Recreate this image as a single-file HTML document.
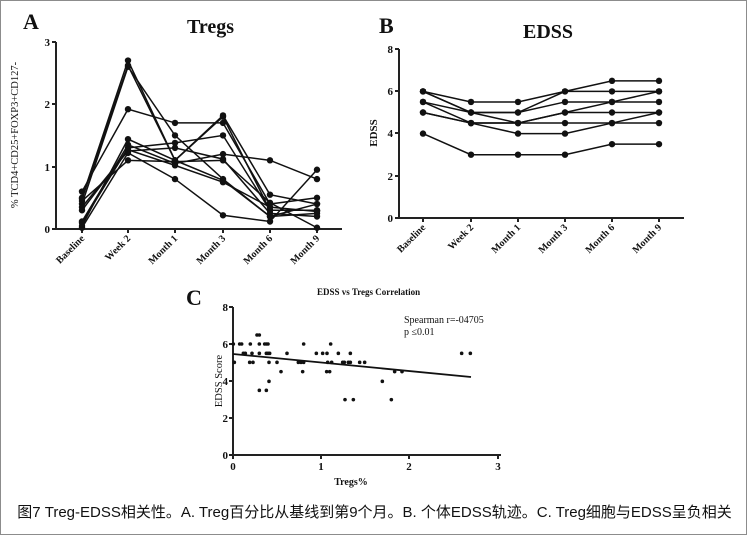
<!DOCTYPE html>
<html><head><meta charset="utf-8"><style>
body{margin:0;background:#fff;}
#w{position:relative;width:747px;height:535px;box-sizing:border-box;border:1px solid #8c8c8c;overflow:hidden;}
svg text{font-family:"Liberation Serif",serif;font-weight:bold;fill:#111;}
svg text.n{font-weight:normal;}
.cap{position:absolute;left:0;top:500px;width:747px;text-align:center;font-family:"Liberation Sans","Noto Sans CJK SC",sans-serif;font-size:15px;color:#111;letter-spacing:0px;}
</style></head><body><div id="w">
<svg id="s" width="747" height="535" xmlns="http://www.w3.org/2000/svg">
<g stroke="#222" stroke-width="2" fill="none">
<path d="M55,41V228H341"/>
<path d="M51,41H55M51,103H55M51,166H55M51,228H55"/>
<path d="M81,228v4M127,228v4M174,228v4M222,228v4M269,228v4M316,228v4"/>
<path d="M398,48V217H683"/>
<path d="M394,48h4M394,90h4M394,132h4M394,175h4M394,217h4"/>
<path d="M422,217v4M470,217v4M517,217v4M564,217v4M611,217v4M658,217v4"/>
<path d="M232,306V454H500"/>
<path d="M228,306h4M228,343h4M228,380h4M228,417h4M228,454h4"/>
<path d="M232,454v4M320,454v4M408,454v4M497,454v4"/>
</g>
<g id="dyn"></g>
<text x="22" y="28" font-size="22">A</text>
<text x="186" y="32" font-size="20">Tregs</text>
<text x="378" y="32" font-size="22">B</text>
<text x="522" y="37" font-size="20">EDSS</text>
<text x="185" y="304" font-size="22">C</text>
<text x="316" y="294" font-size="9">EDSS vs Tregs Correlation</text>
<g font-size="11" text-anchor="end">
<text x="49" y="45">3</text><text x="49" y="107">2</text><text x="49" y="170">1</text><text x="49" y="232">0</text>
<text x="392" y="52">8</text><text x="392" y="94">6</text><text x="392" y="136">4</text><text x="392" y="179">2</text><text x="392" y="221">0</text>
<text x="227" y="310">8</text><text x="227" y="347">6</text><text x="227" y="384">4</text><text x="227" y="421">2</text><text x="227" y="458">0</text>
</g>
<g font-size="11" text-anchor="middle">
<text x="232" y="469">0</text><text x="320" y="469">1</text><text x="408" y="469">2</text><text x="497" y="469">3</text>
</g>
<text x="350" y="484" font-size="10" text-anchor="middle">Tregs%</text>
<text class="n" transform="translate(17,134) rotate(-90)" font-size="10.5" text-anchor="middle">% TCD4+CD25+FOXP3+CD127-</text>
<text transform="translate(376,132) rotate(-90)" font-size="11" text-anchor="middle">EDSS</text>
<text class="n" transform="translate(221,380) rotate(-90)" font-size="10.5" text-anchor="middle">EDSS Score</text>
<text class="n" x="403" y="322" font-size="10">Spearman r=-04705</text>
<text class="n" x="403" y="334" font-size="10">p ≤0.01</text>
<g font-size="10" text-anchor="end">
<text transform="translate(84,238) rotate(-45)">Baseline</text>
<text transform="translate(130,238) rotate(-45)">Week 2</text>
<text transform="translate(177,238) rotate(-45)">Month 1</text>
<text transform="translate(225,238) rotate(-45)">Month 3</text>
<text transform="translate(272,238) rotate(-45)">Month 6</text>
<text transform="translate(319,238) rotate(-45)">Month 9</text>
<text transform="translate(425,227) rotate(-45)">Baseline</text>
<text transform="translate(473,227) rotate(-45)">Week 2</text>
<text transform="translate(520,227) rotate(-45)">Month 1</text>
<text transform="translate(567,227) rotate(-45)">Month 3</text>
<text transform="translate(614,227) rotate(-45)">Month 6</text>
<text transform="translate(661,227) rotate(-45)">Month 9</text>
</g>
</svg>
<div class="cap">图7 Treg-EDSS相关性。A. Treg百分比从基线到第9个月。B. 个体EDSS轨迹。C. Treg细胞与EDSS呈负相关</div>
</div>
<script>
var g=document.getElementById('dyn'),h='';
var ax=[81,127,174,222,269,316],bx=[422,470,517,564,611,658];
var A=[[0.5,2.7,1.1,1.8,0.3,0.3],[0.4,2.6,1.5,0.8,0.2,0.25],[0.6,1.92,1.7,1.7,0.4,0.5],[0.05,1.44,1.1,1.82,0.55,0.4],[0.1,1.3,1.38,1.5,0.3,0.3],[0.12,1.35,1.05,1.2,1.1,0.8],[0.35,1.25,1.3,1.12,0.25,0.2],[0.45,1.1,1.08,1.1,0.42,0.02],[0.02,1.22,0.8,0.22,0.12,0.95],[0.3,1.27,1.02,0.75,0.35,0.28],[0.48,2.62,1.1,0.78,0.2,0.4]];
var B=[[6,5.5,5.5,6,6.5,6.5],[6,5,5,6,6,6],[6,5,4.5,5,5.5,6],[5.5,5,5,5.5,5.5,5.5],[5.5,4.5,4.5,5,5,5],[5,4.5,4.5,4.5,4.5,4.5],[5,4.5,4,4,4.5,5],[4,3,3,3,3.5,3.5]];
function ser(D,xs,y0,k){D.forEach(function(r){var p=r.map(function(v,i){return [xs[i],y0-v*k]});h+='<polyline fill="none" stroke="#111" stroke-width="1.5" points="'+p.join(' ')+'"/>';p.forEach(function(q){h+='<circle cx="'+q[0]+'" cy="'+q[1]+'" r="3.2" fill="#111"/>'})})}
ser(A,ax,228,62.4);ser(B,bx,217,21.1);
var P=[[157,189],[160,244],[176,189],[182,189],[187,217],[193,217],[208,189],[206,244],[213,217],[216,244],[228,162],[235,162],[235,189],[235,217],[235,328],[251,189],[256,189],[261,189],[256,217],[261,217],[266,217],[264,244],[264,301],[256,328],[288,244],[300,272],[318,217],[352,244],[360,244],[365,272],[368,189],[368,244],[406,217],[425,217],[438,217],[440,244],[437,272],[446,272],[449,189],[452,244],[472,217],[485,244],[490,244],[492,356],[502,244],[508,217],[508,244],[517,356],[536,244],[551,244],[604,301],[631,356],[641,272],[663,272],[842,217],[868,217]];
P.forEach(function(q){h+='<circle cx="'+(180+q[0]/3)+'" cy="'+(280+q[1]/3)+'" r="1.8" fill="#111"/>'});
h+='<line x1="232" y1="353" x2="470" y2="376" stroke="#111" stroke-width="1.8"/>';
g.innerHTML=h;
</script>
</body></html>
